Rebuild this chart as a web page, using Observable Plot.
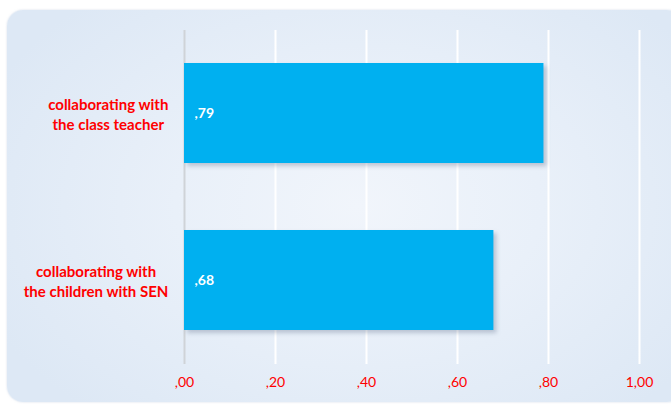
<!DOCTYPE html>
<html>
<head>
<meta charset="utf-8">
<script src="https://cdn.jsdelivr.net/npm/d3@7"></script>
<script src="https://cdn.jsdelivr.net/npm/@observablehq/plot@0.6"></script>
<style>
  html, body { margin: 0; padding: 0; background: #ffffff; }
  #wrap { position: relative; width: 671px; height: 405px; overflow: hidden; }
  #panel {
    position: absolute; left: 7px; top: 10px; width: 676px; height: 392px;
    border-radius: 16px;
    background: radial-gradient(ellipse 60% 70% at 52% 50%, #f1f5fb 0%, #e9f0f9 45%, #dde8f5 100%);
    box-shadow: 0 0 2px rgba(160,180,210,0.5);
  }
  #chart { position: absolute; left: 0; top: 0; }
  #chart svg { background: transparent !important; }
  .bars rect { filter: drop-shadow(3px 3px 2px rgba(60,80,110,0.28)); }
</style>
</head>
<body>
<div id="wrap"><div id="panel"></div><div id="chart"></div></div>
<script>
const categories = ["collaborating with\nthe class teacher", "collaborating with\nthe children with SEN"];
const values = [0.79, 0.68];
const valueLabels = [",79", ",68"];
const ticks = [0, 0.2, 0.4, 0.6, 0.8, 1.0];

const data = categories.map((c, i) => ({cat: c, value: values[i], label: valueLabels[i]}));
const fmt = d => d3.format(".2f")(d).replace(".", ",").replace(/^0,/, ",");
const font = "Lato, 'Open Sans', sans-serif";
const catFont = "bold 15px Lato, 'Open Sans', sans-serif";

// measure each category block so that its widest line ends near the axis (lines centred within the block)
const ctx = document.createElement("canvas").getContext("2d");
ctx.font = catFont;
const blockWidth = c => Math.max(...c.split("\n").map(s => ctx.measureText(s).width));

const catMarks = data.map(d => Plot.text([d], {
  y: "cat", text: "cat", frameAnchor: "left", dx: -16 - blockWidth(d.cat) / 2,
  textAnchor: "middle", fill: "#ff0000", fontWeight: "bold", fontSize: 15, lineHeight: 1.33
}));

const chart = Plot.plot({
  width: 671,
  height: 405,
  marginLeft: 184,
  marginRight: 32,
  marginTop: 30,
  marginBottom: 41,
  style: {background: "transparent", fontFamily: font},
  x: {domain: [0, 1], ticks: ticks, label: null},
  y: {domain: categories, paddingInner: 0.4, paddingOuter: 0.2, label: null},
  marks: [
    Plot.ruleX(ticks.filter(t => t > 0), {stroke: "#ffffff", strokeWidth: 2}),
    Plot.ruleX([0], {stroke: "#cfd3d8", strokeWidth: 2}),
    Plot.barX(data, {x: "value", y: "cat", fill: "#00b0f0", className: "bars"}),
    Plot.text(data, {x: 0, y: "cat", text: "label", textAnchor: "start", dx: 10, fill: "#ffffff", fontWeight: "bold", fontSize: 14}),
    ...catMarks,
    Plot.axisX({ticks: ticks, tickSize: 0, tickPadding: 13, tickFormat: fmt, fill: "#ff0000", fontSize: 14, label: null}),
    Plot.axisY({ticks: [], label: null})
  ]
});
document.getElementById("chart").appendChild(chart);
</script>
</body>
</html>
